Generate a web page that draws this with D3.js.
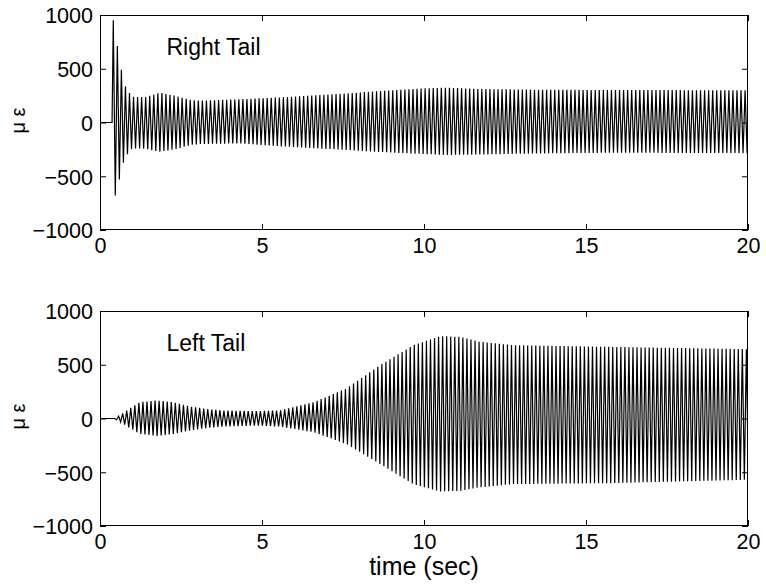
<!DOCTYPE html>
<html><head><meta charset="utf-8">
<script src="https://cdn.jsdelivr.net/npm/d3@7"></script>
<style>
body{margin:0;background:#fff}
text{font-family:"Liberation Sans",Arial,Helvetica,sans-serif;fill:#000}
</style>
</head><body>
<svg id="chart" width="766" height="588"></svg>
<script>
// ---- data ----
const xTicks = [0, 5, 10, 15, 20];
const yTicks = [-1000, -500, 0, 500, 1000];
const panelTitles = ["Right Tail", "Left Tail"];
const yLabel = "\u03bc \u03b5";
const xLabel = "time (sec)";

// Right tail: envelope of the oscillation (upper peaks / lower peaks), microstrain
const rightUpperT = [0.41, 0.55, 0.67, 0.80, 0.92, 1.0, 1.4, 1.85, 2.3, 2.8, 3.1, 4.3, 5.6, 7.6, 9.0, 10.0, 10.7, 11.7, 13.5, 15.8, 20];
const rightUpperV = [950, 684, 473, 318, 271, 240, 235, 277, 250, 209, 203, 216, 234, 271, 300, 318, 324, 312, 305, 302, 300];
const rightLowerT = [0.48, 0.61, 0.73, 0.86, 1.0, 1.4, 1.85, 2.3, 2.8, 3.1, 4.3, 5.6, 7.6, 9.0, 10.0, 10.7, 11.7, 13.5, 15.8, 20];
const rightLowerV = [-680, -513, -365, -287, -240, -245, -272, -250, -209, -200, -194, -222, -256, -280, -293, -302, -298, -288, -281, -285];

// Left tail envelope
const leftUpperT = [0.45, 0.62, 0.9, 1.23, 1.75, 2.26, 2.78, 3.3, 3.8, 4.84, 5.56, 6.6, 7.6, 8.64, 9.67, 10.5, 11.1, 11.7, 12.75, 15.8, 20];
const leftUpperV = [0, 30, 90, 152, 168, 152, 112, 88, 75, 68, 75, 152, 278, 495, 682, 766, 760, 715, 682, 666, 645];
const leftLowerT = [0.45, 0.62, 0.9, 1.23, 1.75, 2.26, 2.78, 3.3, 3.8, 4.84, 5.56, 6.6, 7.6, 8.64, 9.67, 10.5, 11.1, 11.7, 12.75, 15.8, 20];
const leftLowerV = [0, -30, -85, -143, -162, -143, -112, -88, -75, -65, -75, -128, -236, -423, -610, -679, -673, -642, -610, -601, -570];

const oscFreqHz = 8;          // read from stripe spacing
const rightOnset = 0.41;      // time of first peak
const leftOnset = 0.45;

// ---- drawing ----
const svg = d3.select("#chart");
const L = 100, R = 748;
const panels = [
  {top: 15, bottom: 230, title: panelTitles[0], upT: rightUpperT, upV: rightUpperV, loT: rightLowerT, loV: rightLowerV, onset: rightOnset, xlabel: false},
  {top: 311, bottom: 526, title: panelTitles[1], upT: leftUpperT, upV: leftUpperV, loT: leftLowerT, loV: leftLowerV, onset: leftOnset, xlabel: true}
];

const x = d3.scaleLinear().domain([0, 20]).range([L, R]);
const fmt = v => (v < 0 ? "\u2212" + Math.abs(v) : String(v));

panels.forEach((p, i) => {
  const y = d3.scaleLinear().domain([-1000, 1000]).range([p.bottom, p.top]);
  const g = svg.append("g");

  const cid = "clip" + i;
  svg.append("clipPath").attr("id", cid).append("rect")
    .attr("x", L).attr("y", p.top).attr("width", R - L).attr("height", p.bottom - p.top);

  // peaks follow the envelope
  const up = d3.scaleLinear().domain(p.upT).range(p.upV).clamp(true);
  const lo = d3.scaleLinear().domain(p.loT).range(p.loV).clamp(true);
  const half = 0.5 / oscFreqHz;
  const pts = [[0, 0], [p.onset - half * 0.6, 0]];
  for (let k = 0; ; k++) {
    const t = p.onset + k * half;
    if (t > 20.2) break;
    pts.push([t, k % 2 === 0 ? up(t) : lo(t)]);
  }
  const line = d3.line().x(d => x(d[0])).y(d => y(d[1]));
  g.append("path").attr("clip-path", `url(#${cid})`)
    .attr("d", line(pts)).attr("fill", "none").attr("stroke", "#000").attr("stroke-width", 1.2);

  const tl = 6;
  const bottomAx = d3.axisBottom(x).tickValues(xTicks).tickSizeInner(-tl).tickSizeOuter(0).tickPadding(7).tickFormat(d3.format("d"));
  const topAx = d3.axisTop(x).tickValues(xTicks).tickSizeInner(-tl).tickSizeOuter(0).tickFormat("");
  const leftAx = d3.axisLeft(y).tickValues(yTicks).tickSizeInner(-tl).tickSizeOuter(0).tickPadding(7).tickFormat(fmt);
  const rightAx = d3.axisRight(y).tickValues(yTicks).tickSizeInner(-tl).tickSizeOuter(0).tickFormat("");

  const axStyle = s => { s.select(".domain").remove(); s.selectAll("line").attr("stroke", "#000"); s.selectAll("text").attr("font-size", 21.5).attr("fill", "#000").attr("font-family", "Liberation Sans, Arial, sans-serif"); };
  g.append("g").attr("transform", `translate(0,${p.bottom})`).call(bottomAx).call(axStyle).selectAll("text").attr("dy", "0.75em");
  g.append("g").attr("transform", `translate(0,${p.top})`).call(topAx).call(axStyle);
  g.append("g").attr("transform", `translate(${L},0)`).call(leftAx).call(axStyle).selectAll("text").attr("dy", "0.36em");
  g.append("g").attr("transform", `translate(${R},0)`).call(rightAx).call(axStyle);

  g.append("rect").attr("x", L + 0.5).attr("y", p.top + 0.5).attr("width", R - L - 1).attr("height", p.bottom - p.top - 1)
    .attr("fill", "none").attr("stroke", "#000").attr("stroke-width", 1);

  g.append("text").attr("x", x(2.05)).attr("y", y(630)).attr("font-size", 23).text(p.title);

  g.append("text").attr("transform", `translate(25,${(p.top + p.bottom) / 2 - 2}) rotate(-90)`)
    .attr("text-anchor", "middle").attr("font-size", 20).text(yLabel);

  if (p.xlabel) {
    g.append("text").attr("x", (L + R) / 2).attr("y", p.bottom + 49).attr("text-anchor", "middle").attr("font-size", 25).text(xLabel);
  }
});
</script>
</body></html>
